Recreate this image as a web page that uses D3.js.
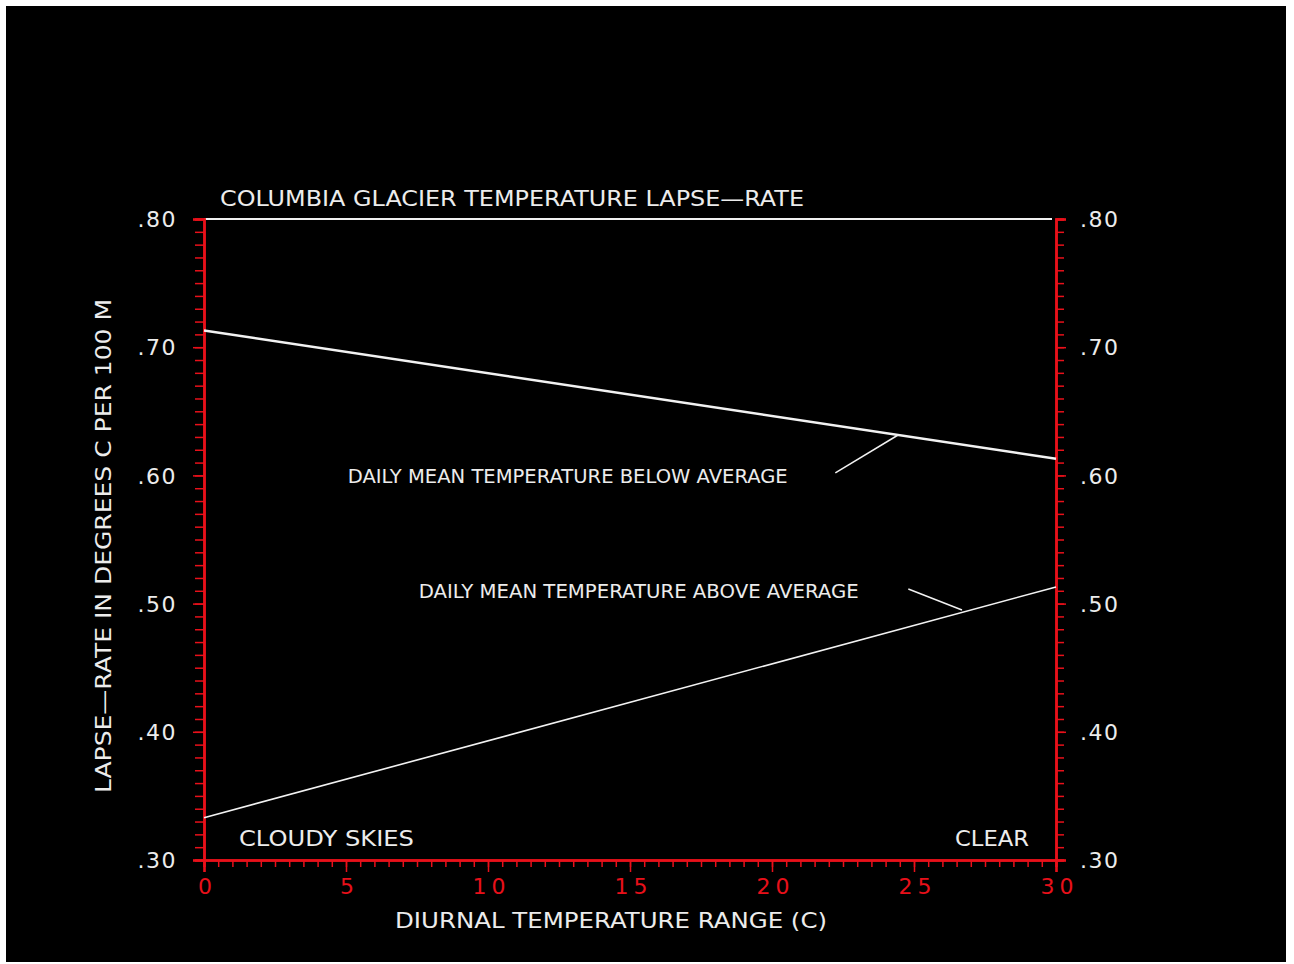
<!DOCTYPE html>
<html>
<head>
<meta charset="utf-8">
<script src="https://cdn.jsdelivr.net/npm/d3@7"></script>
<style>
body { margin: 0; background: #fff; }
svg text { font-family: "DejaVu Sans", sans-serif; fill: #ececec; }
</style>
</head>
<body>
<svg id="chart"></svg>
<script>
// data
var xRange = [0, 30];
var belowAvg = [[0, 0.713], [30, 0.613]];
var aboveAvg = [[0, 0.333], [30, 0.513]];
var xTicks = [0, 5, 10, 15, 20, 25, 30];
var yTicks = [0.30, 0.40, 0.50, 0.60, 0.70, 0.80];
var yTickLabels = ['.30', '.40', '.50', '.60', '.70', '.80'];
var leaderBelow = [[22.23, 0.602], [24.44, 0.6315]];
var leaderAbove = [[24.80, 0.5114], [26.69, 0.495]];

var W = 1294, H = 964;
var svg = d3.select('#chart').attr('width', W).attr('height', H);
svg.append('rect').attr('x', 6).attr('y', 6).attr('width', 1280).attr('height', 956).attr('fill', '#000');

var x = d3.scaleLinear().domain(xRange).range([204, 1056]);
var y = d3.scaleLinear().domain([0.30, 0.80]).range([860, 219]);
var red = '#e8101a';

// top frame line (white)
svg.append('line').attr('x1', x(0)).attr('x2', x(30) - 4).attr('y1', y(0.80)).attr('y2', y(0.80))
    .attr('stroke', '#f0f0f0').attr('stroke-width', 2);

// minor + major ticks
var minorX = d3.range(0, 30.01, 0.5);
var minorY = d3.range(0.30, 0.8001, 0.01);

var bottomMinor = svg.append('g').attr('transform', 'translate(0,' + y(0.30) + ')')
    .call(d3.axisBottom(x).tickValues(minorX).tickSize(7).tickFormat(''));
var bottom = svg.append('g').attr('transform', 'translate(0,' + y(0.30) + ')')
    .call(d3.axisBottom(x).tickValues(xTicks).tickSize(12).tickFormat(d3.format('d')));
var leftMinor = svg.append('g').attr('transform', 'translate(' + x(0) + ',0)')
    .call(d3.axisLeft(y).tickValues(minorY).tickSize(9).tickFormat(''));
var left = svg.append('g').attr('transform', 'translate(' + x(0) + ',0)')
    .call(d3.axisLeft(y).tickValues(yTicks).tickSize(11).tickFormat(function(d, i) { return yTickLabels[i]; }));
var rightMinor = svg.append('g').attr('transform', 'translate(' + x(30) + ',0)')
    .call(d3.axisRight(y).tickValues(minorY).tickSize(8).tickFormat(''));
var right = svg.append('g').attr('transform', 'translate(' + x(30) + ',0)')
    .call(d3.axisRight(y).tickValues(yTicks).tickSize(10).tickFormat(function(d, i) { return yTickLabels[i]; }));

[bottomMinor, bottom, leftMinor, left, rightMinor, right].forEach(function(g) {
    g.select('.domain').attr('stroke', red).attr('stroke-width', 2.5);
    g.selectAll('.tick line').attr('stroke', red).attr('stroke-width', 1.5);
});
bottom.selectAll('.tick text').style('fill', red).attr('font-size', 22).attr('dy', '0.85em')
    .attr('letter-spacing', 5).attr('dx', 3);
left.selectAll('.tick text').attr('font-size', 22).attr('x', -27).attr('dy', '0.35em').attr('letter-spacing', 1.5);
right.selectAll('.tick text').attr('font-size', 22).attr('x', 24).attr('dy', '0.35em').attr('letter-spacing', 1.5);

// series lines
var line = d3.line().x(function(d) { return x(d[0]); }).y(function(d) { return y(d[1]); });
svg.append('path').attr('d', line(belowAvg)).attr('fill', 'none').attr('stroke', '#f2f2f2').attr('stroke-width', 2.5);
svg.append('path').attr('d', line(aboveAvg)).attr('fill', 'none').attr('stroke', '#f2f2f2').attr('stroke-width', 1.6);
svg.append('path').attr('d', line(leaderBelow)).attr('fill', 'none').attr('stroke', '#f2f2f2').attr('stroke-width', 1.5);
svg.append('path').attr('d', line(leaderAbove)).attr('fill', 'none').attr('stroke', '#f2f2f2').attr('stroke-width', 1.5);

// texts
function label(txt, px, py, size, len, anchor) {
    return svg.append('text').attr('x', px).attr('y', py).attr('font-size', size)
        .attr('dy', '0.35em').attr('text-anchor', anchor || 'start')
        .attr('textLength', len).attr('lengthAdjust', 'spacingAndGlyphs').text(txt);
}
label('COLUMBIA  GLACIER  TEMPERATURE  LAPSE\u2014RATE', 220, 198, 22, 584);
label('DAILY  MEAN  TEMPERATURE  BELOW  AVERAGE', x(5.06), y(0.5995), 19, 440);
label('DAILY  MEAN  TEMPERATURE  ABOVE  AVERAGE', x(7.56), y(0.5098), 19, 440);
label('CLOUDY  SKIES', x(1.23), y(0.317), 22, 175);
label('CLEAR', 955, y(0.317), 22, 74);
label('DIURNAL  TEMPERATURE  RANGE  (C)', 395, 920, 22, 432);
svg.append('text').attr('transform', 'translate(103,546) rotate(-90)')
    .attr('text-anchor', 'middle').attr('dy', '0.35em').attr('font-size', 22)
    .attr('textLength', 494).attr('lengthAdjust', 'spacingAndGlyphs')
    .text('LAPSE\u2014RATE  IN  DEGREES  C  PER  100  M');
</script>
</body>
</html>
